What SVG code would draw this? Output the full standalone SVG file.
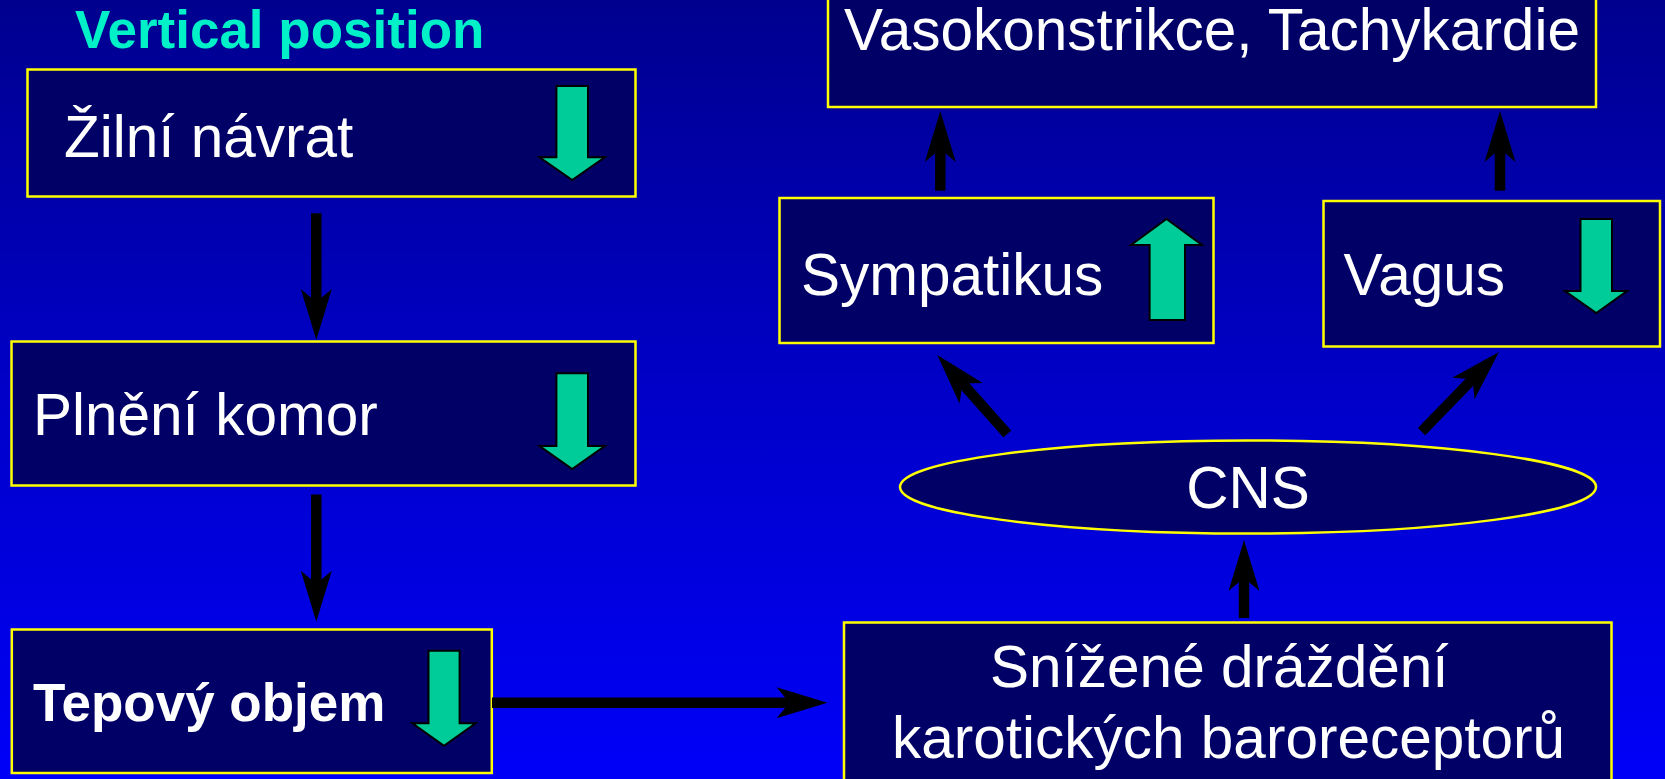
<svg xmlns="http://www.w3.org/2000/svg" width="1665" height="779" viewBox="0 0 1665 779">
  <defs>
    <linearGradient id="bg" x1="0" y1="0" x2="0" y2="1">
      <stop offset="0" stop-color="#00008e"/>
      <stop offset="0.5" stop-color="#0000c8"/>
      <stop offset="1" stop-color="#0000f8"/>
    </linearGradient>
    <!-- stealth arrowhead; origin sits at the notch where the shaft ends -->
    <marker id="head" markerUnits="userSpaceOnUse" orient="auto" refX="0" refY="0" markerWidth="60" markerHeight="40" overflow="visible">
      <path d="M38,0 L-13,-15.5 L0,0 L-13,15.5 Z" fill="#000"/>
    </marker>
    <style>
      .box { fill: #000066; stroke: #ffff00; stroke-width: 2.5; }
      .lbl { font-family: "Liberation Sans", Arial, sans-serif; font-size: 58.5px; fill: #ffffff; }
      .bold { font-weight: bold; font-size: 53px; }
      .title { font-family: "Liberation Sans", Arial, sans-serif; font-weight: bold; font-size: 53px; fill: #00f0c8; }
      .ind { fill: #00cc99; stroke: #000; stroke-width: 2; stroke-linejoin: miter; }
      .conn { stroke: #000; stroke-width: 10.5; fill: none; marker-end: url(#head); }
    </style>
  </defs>

  <rect x="0" y="0" width="1665" height="779" fill="url(#bg)"/>

  <text class="title" x="75" y="48">Vertical position</text>

  <g id="zilni-navrat">
    <rect class="box" x="27.5" y="69.5" width="608" height="127"/>
    <text class="lbl" x="64" y="157">Žilní návrat</text>
    <path class="ind" d="M556.4,86 H588 V157.3 H604.8 L572.2,180 L539.6,157.3 H556.4 Z"/>
  </g>

  <g id="plneni-komor">
    <rect class="box" x="11.5" y="341.5" width="624" height="144"/>
    <text class="lbl" x="33" y="435">Plnění komor</text>
    <path class="ind" d="M556.4,373.3 H588 V446 H604.8 L572.2,469 L539.6,446 H556.4 Z"/>
  </g>

  <g id="tepovy-objem">
    <rect class="box" x="11.8" y="629.5" width="480" height="143.5"/>
    <text class="lbl bold" x="33" y="721">Tepový objem</text>
    <path class="ind" d="M428.5,650.7 H459.6 V723.3 H475.6 L444,745.7 L412.4,723.3 H428.5 Z"/>
  </g>

  <g id="vasokonstrikce">
    <rect class="box" x="828" y="-5" width="768" height="112"/>
    <text class="lbl" x="844" y="50">Vasokonstrikce, Tachykardie</text>
  </g>

  <g id="sympatikus">
    <rect class="box" x="779.5" y="198" width="434" height="145"/>
    <text class="lbl" x="801" y="295">Sympatikus</text>
    <path class="ind" d="M1149.6,320 V245 H1131 L1166.5,219 L1202,245 H1185 V320 Z"/>
  </g>

  <g id="vagus">
    <rect class="box" x="1323.5" y="201" width="336.5" height="145.5"/>
    <text class="lbl" x="1343.5" y="295">Vagus</text>
    <path class="ind" d="M1580.5,219 H1612 V291 H1627 L1596.3,313 L1565,291 H1580.5 Z"/>
  </g>

  <g id="cns">
    <ellipse class="box" cx="1248" cy="487" rx="348" ry="46.5"/>
    <text class="lbl" x="1248" y="508" text-anchor="middle">CNS</text>
  </g>

  <g id="baroreceptory">
    <rect class="box" x="844" y="622.5" width="767.5" height="170"/>
    <text class="lbl" x="990" y="687">Snížené dráždění</text>
    <text class="lbl" x="892" y="758">karotických baroreceptorů</text>
  </g>

  <g id="connectors">
    <line class="conn" x1="316.3" y1="213.3" x2="316.3" y2="302"/>
    <line class="conn" x1="316.3" y1="494.5" x2="316.3" y2="583.7"/>
    <line class="conn" x1="492" y1="702.7" x2="789.5" y2="702.7"/>
    <line class="conn" x1="1244" y1="618" x2="1244" y2="578"/>
    <line class="conn" x1="1007.3" y1="434" x2="962.5" y2="383.5"/>
    <line class="conn" x1="1421.6" y1="431.7" x2="1472.5" y2="379.2"/>
    <line class="conn" x1="940.3" y1="190.7" x2="940.3" y2="149"/>
    <line class="conn" x1="1500" y1="190.7" x2="1500" y2="149"/>
  </g>
</svg>
